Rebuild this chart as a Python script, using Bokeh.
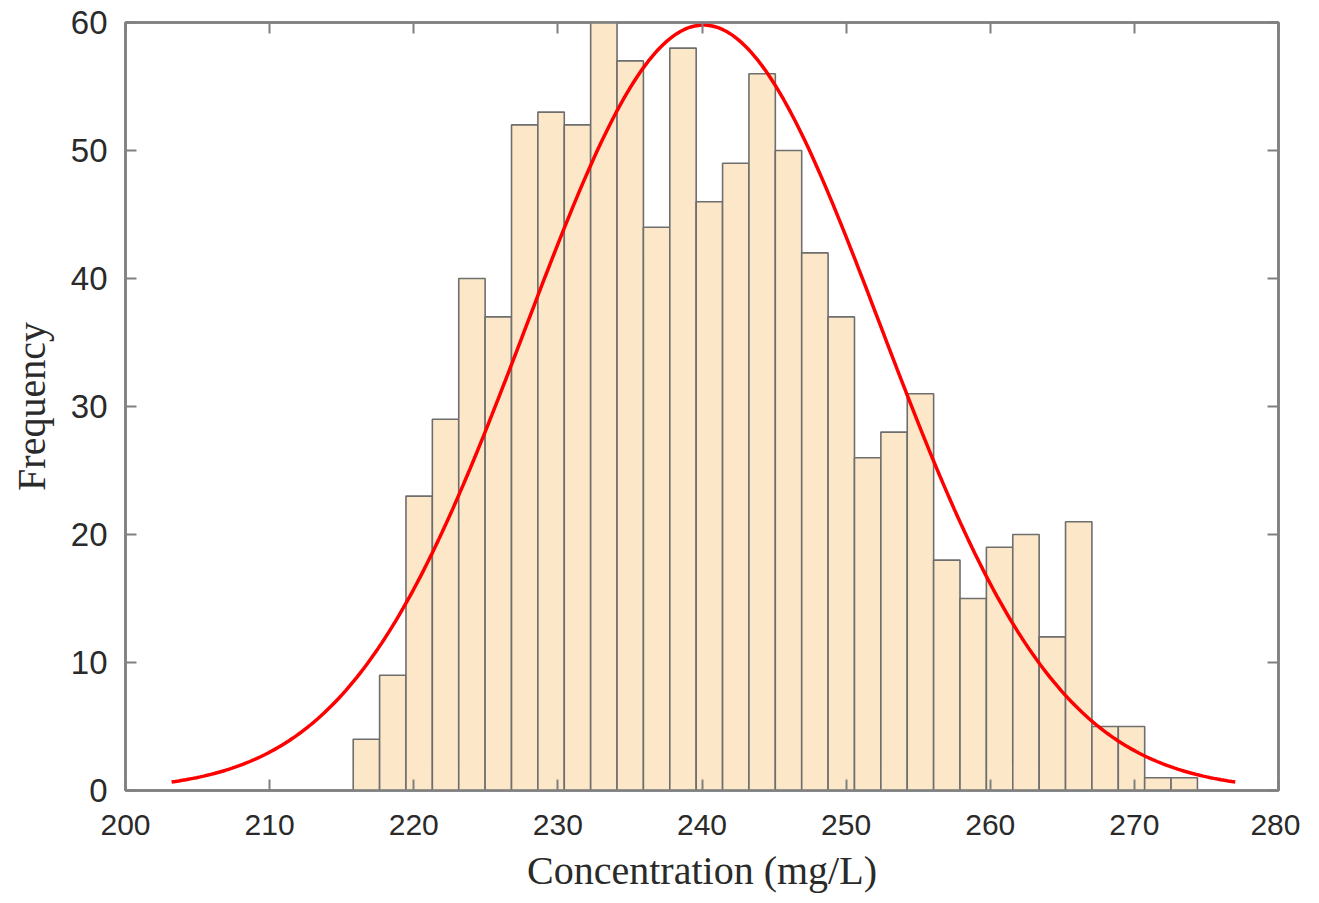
import numpy as np
from bokeh.plotting import figure
from bokeh.models import LinearAxis, FixedTicker, Range1d
from bokeh.embed import file_html
from bokeh.resources import INLINE

# Histogram data
bin_start = 215.8
bin_width = 1.8305
counts = [4, 9, 23, 29, 40, 37, 52, 53, 52, 60, 57, 44, 58, 46, 49, 56,
          50, 42, 37, 26, 28, 31, 18, 15, 19, 20, 12, 21, 5, 5, 1, 1]

# Fitted normal curve parameters
fit_mean = 240.1
fit_sigma = 12.3
fit_peak = 59.8

x_ticks = [200, 210, 220, 230, 240, 250, 260, 270, 280]
y_ticks = [0, 10, 20, 30, 40, 50, 60]

edges = bin_start + bin_width * np.arange(len(counts) + 1)
cx = np.linspace(fit_mean - 3 * fit_sigma, fit_mean + 3 * fit_sigma, 300)
cy = fit_peak * np.exp(-((cx - fit_mean) ** 2) / (2 * fit_sigma ** 2))

p = figure(width=1300, height=895, output_backend="svg", toolbar_location=None,
           x_range=Range1d(200, 280), y_range=Range1d(0, 60),
           min_border_left=125, min_border_top=22, min_border_right=22,
           min_border_bottom=102, x_axis_location=None, y_axis_location=None)

p.quad(left=edges[:-1], right=edges[1:], top=counts, bottom=0,
       fill_color="#FCE8C9", line_color="#6E6E6E", line_width=1.6)
p.line(cx, cy, line_color="#FF0000", line_width=3.5)

p.grid.visible = False
p.outline_line_color = "#808080"
p.outline_line_width = 2.5
p.background_fill_color = "white"
p.border_fill_color = "white"

def make_axis(ticks, labels=True):
    ax = LinearAxis(ticker=FixedTicker(ticks=ticks))
    ax.major_tick_in = 11
    ax.major_tick_out = 0
    ax.minor_tick_line_color = None
    ax.major_tick_line_color = "#808080"
    ax.major_tick_line_width = 2
    ax.axis_line_color = "#808080"
    ax.axis_line_width = 2.5
    if labels:
        ax.major_label_text_font = "Liberation Sans"
        ax.major_label_text_font_size = "33px"
        ax.major_label_text_color = "#2a2a2a"
    else:
        ax.major_label_text_font_size = "0px"
        ax.major_label_text_color = None
        ax.major_label_standoff = 0
    return ax

xb = make_axis(x_ticks)
xb.axis_label = "Concentration (mg/L)"
xb.axis_label_text_font = "Liberation Serif"
xb.axis_label_text_font_size = "40px"
xb.axis_label_text_font_style = "normal"
xb.axis_label_text_color = "#2a2a2a"
xb.major_label_standoff = 24
xb.axis_label_standoff = 10
xb.major_label_text_font_size = "30px"
p.add_layout(xb, "below")

yl = make_axis(y_ticks)
yl.axis_label = "Frequency"
yl.axis_label_text_font = "Liberation Serif"
yl.axis_label_text_font_size = "40px"
yl.axis_label_text_font_style = "normal"
yl.axis_label_text_color = "#2a2a2a"
yl.major_label_standoff = 18
yl.axis_label_standoff = 14
p.add_layout(yl, "left")

p.add_layout(make_axis(x_ticks, labels=False), "above")
p.add_layout(make_axis(y_ticks, labels=False), "right")

open("out.html", "w").write(file_html(p, INLINE))
